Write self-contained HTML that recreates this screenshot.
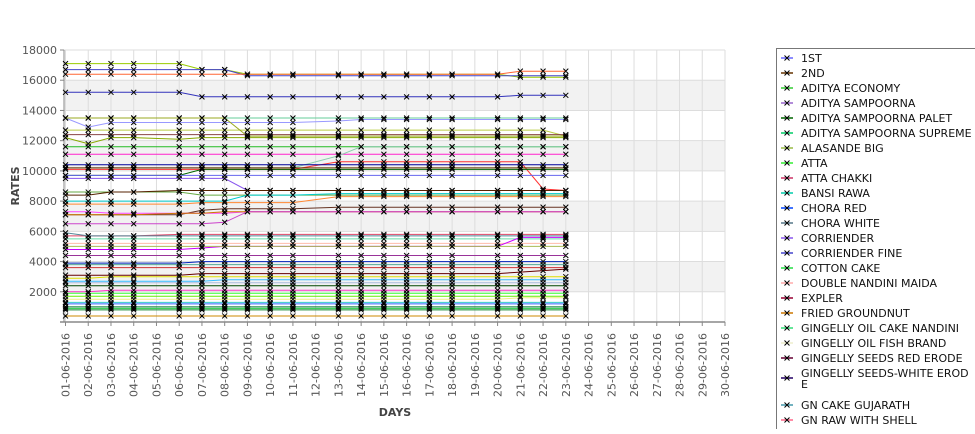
<!DOCTYPE html>
<html><head><meta charset="utf-8"><style>
body{margin:0;background:#fff;width:975px;height:429px;overflow:hidden;font-family:"Liberation Sans","DejaVu Sans",sans-serif}
svg text{font-family:"DejaVu Sans","Liberation Sans",sans-serif}
</style></head><body>
<svg id="chart" width="975" height="429" xmlns="http://www.w3.org/2000/svg"></svg>
<script>
const dates=["01-06-2016","02-06-2016","03-06-2016","04-06-2016","05-06-2016","06-06-2016","07-06-2016","08-06-2016","09-06-2016","10-06-2016","11-06-2016","12-06-2016","13-06-2016","14-06-2016","15-06-2016","16-06-2016","17-06-2016","18-06-2016","19-06-2016","20-06-2016","21-06-2016","22-06-2016","23-06-2016","24-06-2016","25-06-2016","26-06-2016","27-06-2016","28-06-2016","29-06-2016","30-06-2016"];
const dataDays=["01-06-2016","02-06-2016","03-06-2016","04-06-2016","06-06-2016","07-06-2016","08-06-2016","09-06-2016","10-06-2016","11-06-2016","13-06-2016","14-06-2016","15-06-2016","16-06-2016","17-06-2016","18-06-2016","20-06-2016","21-06-2016","22-06-2016","23-06-2016"];
const yTicks=[2000,4000,6000,8000,10000,12000,14000,16000,18000];
const legendNames=["1ST","2ND","ADITYA ECONOMY","ADITYA SAMPOORNA","ADITYA SAMPOORNA PALET","ADITYA SAMPOORNA SUPREME","ALASANDE BIG","ATTA","ATTA CHAKKI","BANSI RAWA","CHORA RED","CHORA WHITE","CORRIENDER","CORRIENDER FINE","COTTON CAKE","DOUBLE NANDINI MAIDA","EXPLER","FRIED GROUNDNUT","GINGELLY OIL CAKE NANDINI","GINGELLY OIL FISH BRAND","GINGELLY SEEDS RED ERODE","GINGELLY SEEDS-WHITE ERODE","GN CAKE GUJARATH","GN RAW WITH SHELL"];
const legendColors=["#6666ff","#663300","#33cc33","#9966cc","#006600","#00cc66","#99bb44","#33ee33","#cc3366","#00ccaa","#0044ff","#557788","#8855ee","#4444cc","#22dd44","#ffaaaa","#990033","#cc7700","#33dd77","#eeeecc","#660033","#220066","#4499aa","#ff6688"];
const seriesValues=[
[17100,17100,17100,17100,17100,16700,16700,16400,16400,16400,16400,16400,16400,16400,16400,16400,16400,16200,16200,16200],
[16700,16700,16700,16700,16700,16700,16700,16300,16300,16300,16300,16300,16300,16300,16300,16300,16300,16300,16300,16300],
[16400,16400,16400,16400,16400,16400,16400,16400,16400,16400,16400,16400,16400,16400,16400,16400,16400,16600,16600,16600],
[15200,15200,15200,15200,15200,14900,14900,14900,14900,14900,14900,14900,14900,14900,14900,14900,14900,15000,15000,15000],
[13500,13500,13500,13500,13500,13500,13500,13500,13500,13500,13500,13500,13500,13500,13500,13500,13500,13500,13500,13500],
[13500,12900,13200,13200,13200,13200,13200,13200,13200,13200,13300,13400,13400,13400,13400,13400,13400,13400,13400,13400],
[12700,12700,12700,12700,12700,12700,12700,12700,12700,12700,12700,12700,12700,12700,12700,12700,12700,12700,12700,12300],
[12400,12400,12400,12400,12400,12400,12400,12400,12400,12400,12400,12400,12400,12400,12400,12400,12400,12400,12400,12400],
[12200,11800,12200,12200,12100,12200,12200,12200,12200,12200,12200,12200,12200,12200,12200,12200,12200,12200,12200,12200],
[13500,13500,13500,13500,13500,13500,13500,12300,12300,12300,12300,12300,12300,12300,12300,12300,12300,12300,12300,12300],
[11600,11600,11600,11600,11600,11600,11600,11600,11600,11600,11600,11600,11600,11600,11600,11600,11600,11600,11600,11600],
[11100,11100,11100,11100,11100,11100,11100,11100,11100,11100,11100,11100,11100,11100,11100,11100,11100,11100,11100,11100],
[10200,10200,10200,10200,10200,10200,10200,10200,10200,10200,11000,11600,11600,11600,11600,11600,11600,11600,11600,11600],
[10100,10100,10100,10100,10100,10100,10100,10100,10100,10100,10600,10600,10600,10600,10600,10600,10600,10600,8800,8700],
[10400,10400,10400,10400,10400,10400,10400,10400,10400,10400,10400,10400,10400,10400,10400,10400,10400,10400,10400,10400],
[10200,10200,10200,10200,10200,10200,10200,10200,10200,10200,10200,10200,10200,10200,10200,10200,10200,10200,10200,10200],
[9700,9700,9700,9700,9700,10100,10100,10100,10100,10100,10100,10100,10100,10100,10100,10100,10100,10100,10100,10100],
[9500,9500,9500,9500,9500,9500,9500,8700,8700,8700,8700,8700,8700,8700,8700,8700,8700,8700,8700,8700],
[9700,9700,9700,9700,9700,9700,9700,9700,9700,9700,9700,9700,9700,9700,9700,9700,9700,9700,9700,9700],
[8600,8600,8600,8600,8600,8400,8400,8400,8400,8400,8400,8400,8400,8400,8400,8400,8400,8400,8400,8400],
[8400,8400,8600,8600,8700,8700,8700,8700,8700,8700,8700,8700,8700,8700,8700,8700,8700,8700,8700,8700],
[8000,8000,8000,8000,8000,8000,8000,8400,8400,8400,8500,8500,8500,8500,8500,8500,8500,8500,8500,8500],
[7800,7800,7800,7800,7800,7900,7900,7900,7900,7900,8300,8300,8300,8300,8300,8300,8300,8300,8300,8300],
[7100,7100,7100,7100,7100,7400,7500,7500,7500,7500,7600,7600,7600,7600,7600,7600,7600,7600,7600,7600],
[7300,7300,7200,7200,7200,7200,7200,7300,7300,7300,7300,7300,7300,7300,7300,7300,7300,7300,7300,7300],
[7100,7100,7100,7100,7200,7200,7300,7300,7300,7300,7300,7300,7300,7300,7300,7300,7300,7300,7300,7300],
[6500,6500,6500,6500,6500,6500,6600,7300,7300,7300,7300,7300,7300,7300,7300,7300,7300,7300,7300,7300],
[5700,5700,5700,5700,5800,5800,5800,5800,5800,5800,5800,5800,5800,5800,5800,5800,5800,5800,5800,5800],
[5900,5700,5700,5700,5700,5700,5700,5700,5700,5700,5700,5700,5700,5700,5700,5700,5700,5700,5700,5700],
[5500,5500,5500,5500,5500,5500,5500,5500,5500,5500,5500,5500,5500,5500,5500,5500,5500,5500,5500,5500],
[5200,5200,5200,5200,5200,5200,5200,5200,5200,5200,5200,5200,5200,5200,5200,5200,5200,5200,5200,5200],
[4800,4800,4800,4800,4800,4900,5000,5000,5000,5000,5000,5000,5000,5000,5000,5000,5000,5600,5600,5600],
[5000,5000,5000,5000,5000,5000,5000,5000,5000,5000,5000,5000,5000,5000,5000,5000,5000,5000,5000,5000],
[4400,4400,4400,4400,4400,4400,4400,4400,4400,4400,4400,4400,4400,4400,4400,4400,4400,4400,4400,4400],
[3900,3900,3900,3900,3900,4000,4000,4000,4000,4000,4000,4000,4000,4000,4000,4000,4000,4000,4000,4000],
[3800,3800,3800,3800,3800,3800,3800,3800,3800,3800,3800,3800,3800,3800,3800,3800,3800,3800,3800,3800],
[3600,3600,3600,3600,3600,3600,3600,3600,3600,3600,3600,3600,3600,3600,3600,3600,3600,3600,3600,3600],
[3100,3100,3100,3100,3100,3200,3200,3200,3200,3200,3200,3200,3200,3200,3200,3200,3200,3300,3400,3500],
[2900,2900,3000,3000,3000,3000,3000,3000,3000,3000,3000,3000,3000,3000,3000,3000,3000,3000,3000,3000],
[2700,2700,2700,2700,2700,2700,2800,2800,2800,2800,2800,2800,2800,2800,2800,2800,2800,2800,2800,2800],
[2600,2600,2600,2600,2600,2600,2600,2600,2600,2600,2600,2600,2600,2600,2600,2600,2600,2600,2600,2600],
[2400,2400,2400,2400,2400,2400,2400,2400,2400,2400,2400,2400,2400,2400,2400,2400,2400,2400,2400,2400],
[2000,2000,2100,2100,2100,2100,2100,2100,2100,2100,2100,2100,2100,2100,2100,2100,2100,2100,2100,2100],
[1900,1900,1900,1900,1900,1900,1900,1900,1900,1900,1900,1900,1900,1900,1900,1900,1900,1900,1900,1900],
[1700,1700,1700,1700,1700,1700,1700,1700,1700,1700,1700,1700,1700,1700,1700,1700,1700,1700,1700,1700],
[1500,1500,1500,1500,1500,1500,1500,1500,1500,1500,1500,1500,1500,1500,1500,1500,1500,1600,1600,1600],
[1300,1300,1300,1300,1300,1300,1300,1300,1300,1300,1300,1300,1300,1300,1300,1300,1300,1300,1300,1300],
[1200,1200,1200,1200,1200,1200,1200,1200,1200,1200,1200,1200,1200,1200,1200,1200,1200,1200,1200,1200],
[1000,1000,1000,1000,1000,1000,1000,1000,1000,1000,1000,1000,1000,1000,1000,1000,1000,1000,1000,1000],
[900,900,900,900,900,900,900,900,900,900,900,900,900,900,900,900,900,900,900,900],
[800,800,800,800,800,800,800,800,800,800,800,800,800,800,800,800,800,800,800,800],
[400,400,400,400,400,400,400,400,400,400,400,400,400,400,400,400,400,400,400,400]
];
const lineColors=["#99cc00","#4444cc","#ff6633","#3333bb","#66cc99","#9999ff","#bbcc44","#884444","#88aa00","#99aa22","#22bb22","#ff22cc","#88ccaa","#ff3333","#000099","#663300","#006600","#8855ee","#6666ee","#66aa44","#552200","#00cccc","#ff8833","#663322","#ff44ff","#cc7700","#cc44cc","#dd4466","#558899","#66ddaa","#ffbbaa","#cc00ff","#aabb55","#993399","#0022bb","#55aa99","#cc3333","#660000","#dddd00","#33bbff","#aabbdd","#004400","#ff33cc","#33ff33","#66ee00","#eeee88","#33cccc","#3366ff","#007733","#22cc44","#118833","#cc8800"];

const NS="http://www.w3.org/2000/svg";
const svg=document.getElementById("chart");
const L=65.5,R=725,T=50,B=322,YMAX=18000;
function xPos(d){return L+dates.indexOf(d)*(R-L)/(dates.length-1);}
function yPos(v){return B-v*(B-T)/YMAX;}
function mk(tag,attrs,parent){const e=document.createElementNS(NS,tag);for(const k in attrs)e.setAttribute(k,attrs[k]);(parent||svg).appendChild(e);return e;}

const bg=mk("g",{});


for(let i=0;i<yTicks.length-1;i+=2){
  const r=mk("rect",{x:64,y:yPos(yTicks[i+1]),width:R-64,height:yPos(yTicks[i])-yPos(yTicks[i+1]),fill:"#f2f2f2"},bg);
  
  
}
dates.forEach(d=>{const l=mk("line",{x1:xPos(d),x2:xPos(d),y1:T,y2:B,stroke:"#dddddd","stroke-width":1},bg);
  
  });
yTicks.forEach(v=>{const l=mk("line",{x1:64,x2:R,y1:yPos(v),y2:yPos(v),stroke:"#dddddd","stroke-width":1},bg);
  
  });

const axes=mk("g",{});


mk("line",{x1:64,x2:64,y1:T,y2:B,stroke:"#888","stroke-width":1},axes);
mk("line",{x1:60,x2:R,y1:B,y2:B,stroke:"#888","stroke-width":1.5},axes);
yTicks.forEach(v=>{
  mk("line",{x1:60,x2:64,y1:yPos(v),y2:yPos(v),stroke:"#888"},axes);
  const t=mk("text",{x:57,y:yPos(v)+4,"text-anchor":"end","font-size":11,fill:"#555"},axes);
  t.textContent=v;
  
  
});
dates.forEach(d=>{
  const x=xPos(d);
  mk("line",{x1:x,x2:x,y1:B,y2:B+4,stroke:"#888"},axes);
  const t=mk("text",{x:0,y:0,"text-anchor":"end","font-size":11,fill:"#555",transform:`translate(${x+4},333) rotate(-90)`},axes);
  t.textContent=d;
  
  
});
const yt=mk("text",{x:0,y:0,"text-anchor":"middle","font-size":11,"font-weight":"bold",fill:"#444",transform:"translate(19,186) rotate(-90)"});
yt.textContent="RATES";


const xt=mk("text",{x:395,y:416,"text-anchor":"middle","font-size":11,"font-weight":"bold",fill:"#444"});
xt.textContent="DAYS";



const plot=mk("g",{});


seriesValues.forEach((vals,si)=>{
  const pts=vals.map((v,i)=>xPos(dataDays[i]).toFixed(1)+","+yPos(v).toFixed(1)).join(" ");
  const pl=mk("polyline",{points:pts,fill:"none",stroke:lineColors[si%lineColors.length],"stroke-width":1},plot);
  
  
});
const markers=mk("g",{stroke:"#000","stroke-width":1});


seriesValues.forEach(vals=>{
  let d="";
  vals.forEach((v,i)=>{const x=xPos(dataDays[i]),y=yPos(v);d+=`M${x-2.5},${y-2.5}L${x+2.5},${y+2.5}M${x-2.5},${y+2.5}L${x+2.5},${y-2.5}`;});
  const p=mk("path",{d:d},markers);
  
  
});

const lg=mk("g",{});


mk("rect",{x:776.5,y:48.5,width:205,height:390,fill:"#fff",stroke:"#777"},lg);
legendNames.forEach((n,i)=>{
  let y=58+15*i; if(i>=22) y+=17; let my=y; if(i===21) my=y+5;
  const g=mk("g",{},lg);
  
  
  mk("line",{x1:781,x2:793,y1:my,y2:my,stroke:legendColors[i],"stroke-width":1.5},g);
  mk("path",{d:`M784.5,${my-2.5}L789.5,${my+2.5}M784.5,${my+2.5}L789.5,${my-2.5}`,stroke:"#000","stroke-width":1},g);
  const t=mk("text",{x:801,y:y+4,"font-size":11,fill:"#111"},g);
  if(i===21){t.textContent="GINGELLY SEEDS-WHITE EROD";const t2=mk("text",{x:801,y:y+15,"font-size":11,fill:"#111"},g);t2.textContent="E";}
  else t.textContent=n;
});
</script>
</body></html>
